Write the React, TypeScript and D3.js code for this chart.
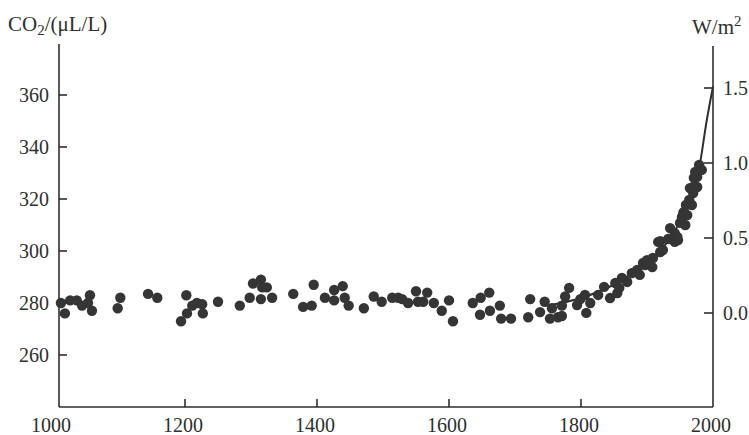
import { useEffect, useRef } from 'react';
import * as d3 from 'd3';

// ice-core CO2 samples (year, ppm)
const years = [
  1012, 1018, 1026, 1036, 1044, 1053, 1056, 1059, 1098, 1102, 1144, 1158, 1194, 1202, 1203, 1211,
  1218, 1226, 1227, 1250, 1283, 1298, 1303, 1315, 1317, 1324, 1315, 1332, 1364, 1379, 1392, 1395,
  1412, 1426, 1426, 1439, 1442, 1448, 1471, 1486, 1498, 1514, 1523, 1529, 1538, 1550, 1553, 1561,
  1567, 1577, 1589, 1600, 1606, 1636, 1648, 1661, 1647, 1662, 1677, 1679, 1694, 1720, 1723, 1738,
  1745, 1753, 1756, 1765, 1771, 1776, 1782, 1771, 1794, 1799, 1808, 1806, 1814, 1826, 1835, 1844,
  1852, 1855, 1858, 1862, 1870, 1877, 1885, 1889, 1894, 1897, 1900, 1908, 1909, 1917, 1920, 1920,
  1924, 1932, 1935, 1942, 1942, 1946, 1947, 1950, 1953, 1955, 1956, 1958, 1959, 1961, 1964, 1965,
  1968, 1970, 1970, 1971, 1973, 1976, 1976, 1979, 1983,
];
const co2 = [
  280, 276, 281, 281, 279, 280, 283, 277, 278, 282, 283.5, 282, 273, 283, 276, 279,
  280, 279.5, 276, 280.5, 279, 282, 287.5, 289, 286, 286, 281.5, 282, 283.5, 278.5, 279, 287,
  282, 285, 281, 286.5, 282, 279, 278, 282.5, 280.5, 282, 282, 281.5, 280, 284.5, 280.5, 280.5,
  284, 280, 277, 281, 273, 280, 282, 284, 275.5, 277, 279, 274, 274, 274.5, 281.5, 276.5,
  280.5, 274, 278, 274.5, 279, 282.5, 285.8, 275, 279.2, 281.5, 276.2, 283.1, 280, 283.1, 286.2, 281.9,
  287.7, 283.8, 285.8, 289.6, 288.1, 291.5, 292.7, 290.8, 295.4, 294.6, 296.5, 293.8, 297.3, 303.5, 303.8, 299.6,
  300.4, 304.6, 308.8, 303.5, 306.9, 305.4, 304.2, 310.8, 313.1, 314.6, 315, 310, 317.7, 313.8, 319.6, 324.2,
  317.7, 322.3, 324.6, 328.1, 330.4, 324.6, 328.5, 333.1, 331.2,
];

// radiative forcing curve (W/m2)
const forcingYears = [1750, 1800, 1850, 1900, 1925, 1950, 1960, 1970, 1980, 1990, 2000];
const forcingValues = [0.05, 0.1, 0.19, 0.34, 0.44, 0.61, 0.7, 0.82, 0.99, 1.27, 1.51];

const xTicks = [1000, 1200, 1400, 1600, 1800, 2000];
const leftTicks = [260, 280, 300, 320, 340, 360];
const rightTicks = [0, 0.5, 1.0, 1.5];

const ink = '#2f2f2f';
const font = '"Liberation Serif", "Times New Roman", serif';

export default function App() {
  const ref = useRef<SVGSVGElement>(null);

  useEffect(() => {
    const width = 749, height = 435;
    const svg = d3.select(ref.current);
    svg.selectAll('*').remove();
    svg.attr('width', width).attr('height', height);

    const x = d3.scaleLinear().domain([1000, 2000]).range([53, 713]);
    const y = d3.scaleLinear().domain([260, 360]).range([355, 95]);
    const yR = d3.scaleLinear().domain([0, 1.5]).range([313, 88]);

    const left = 59, right = 713, bottom = 407;

    // frame
    const g = svg.append('g').attr('stroke', ink).attr('stroke-width', 1.6).attr('fill', 'none');
    g.append('line').attr('x1', left).attr('x2', left).attr('y1', 44).attr('y2', bottom);
    g.append('line').attr('x1', right).attr('x2', right).attr('y1', 46).attr('y2', bottom);
    g.append('line').attr('x1', left).attr('x2', right).attr('y1', bottom).attr('y2', bottom);

    // ticks pointing inward
    g.selectAll('.xt').data(xTicks.slice(1, -1)).join('line')
      .attr('x1', d => x(d)).attr('x2', d => x(d)).attr('y1', bottom).attr('y2', bottom - 8);
    g.selectAll('.lt').data(leftTicks).join('line')
      .attr('x1', left).attr('x2', left + 8).attr('y1', d => y(d)).attr('y2', d => y(d));
    g.selectAll('.rt').data(rightTicks).join('line')
      .attr('x1', right).attr('x2', right - 9).attr('y1', d => yR(d)).attr('y2', d => yR(d));

    const txt = svg.append('g').attr('fill', ink).attr('font-family', font).attr('font-size', 20);
    txt.selectAll('.xl').data(xTicks).join('text')
      .attr('x', d => x(d) - 2).attr('y', 432).attr('text-anchor', 'middle').text(d => d);
    txt.selectAll('.ll').data(leftTicks).join('text')
      .attr('x', 49).attr('y', d => y(d) + 7).attr('text-anchor', 'end').text(d => d);
    txt.selectAll('.rl').data(rightTicks).join('text')
      .attr('x', 723).attr('y', d => yR(d) + 7).text(d => d3.format('.1f')(d));

    const t1 = txt.append('text').attr('x', 8).attr('y', 31).attr('font-size', 21);
    t1.append('tspan').text('CO');
    t1.append('tspan').attr('font-size', 15).attr('dy', 4).text('2');
    t1.append('tspan').attr('dy', -4).text('/(μL/L)');

    const t2 = txt.append('text').attr('x', 692).attr('y', 34).attr('font-size', 21);
    t2.append('tspan').text('W/m');
    t2.append('tspan').attr('font-size', 15).attr('dy', -8).text('2');

    // forcing line under the dots
    const line = d3.line<number>()
      .x((_, i) => x(forcingYears[i]))
      .y(d => yR(d))
      .curve(d3.curveMonotoneX);
    svg.append('path').datum(forcingValues)
      .attr('d', line).attr('fill', 'none').attr('stroke', ink).attr('stroke-width', 2);

    svg.append('g').selectAll('circle').data(years).join('circle')
      .attr('cx', d => x(d)).attr('cy', (_, i) => y(co2[i])).attr('r', 5.2).attr('fill', '#353535');
  }, []);

  return (
    <div style={{ position: 'absolute', left: 0, top: 0 }}>
      <svg ref={ref} style={{ display: 'block' }}></svg>
    </div>
  );
}
